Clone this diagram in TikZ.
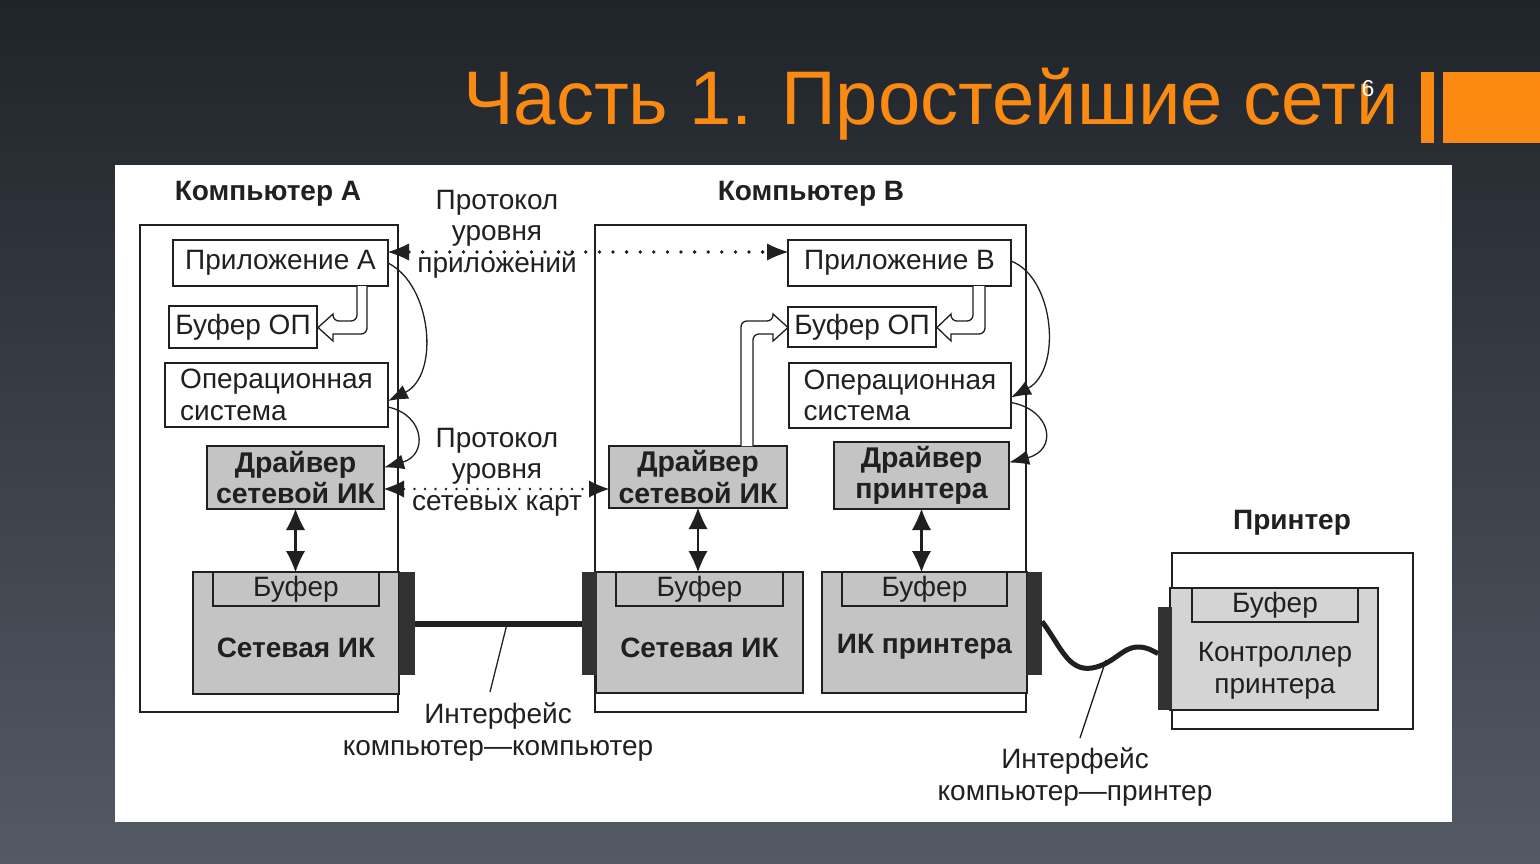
\documentclass[tikz,border=0pt]{standalone}
\usepackage{fontspec}
\setmainfont{Liberation Sans}
\usetikzlibrary{arrows.meta,calc}
\definecolor{bgtop}{RGB}{30,36,41}
\definecolor{bgbot}{RGB}{84,90,100}
\definecolor{orangeT}{RGB}{250,138,18}
\definecolor{ink}{RGB}{32,32,32}
\definecolor{gfill}{RGB}{196,196,196}
\definecolor{cfill}{RGB}{212,212,212}
\definecolor{darkbar}{RGB}{50,50,50}
\begin{document}
\begin{tikzpicture}[x=1pt,y=-1pt,
  box/.style={draw=ink, line width=1.4pt, fill=white, inner sep=0pt, outer sep=0pt,
    text=ink, font=\fontsize{28}{31.5}\selectfont, align=center},
  gbox/.style={box, fill=gfill, font=\fontsize{28.5}{31.5}\selectfont\bfseries},
  frame/.style={draw=ink, line width=1.4pt, inner sep=0pt, outer sep=0pt},
  bar/.style={fill=darkbar, draw=none, inner sep=0pt, outer sep=0pt},
  txt/.style={text=ink, font=\fontsize{28}{31.5}\selectfont, align=center, inner sep=0pt},
  btxt/.style={text=ink, font=\fontsize{28}{31.5}\selectfont\bfseries, align=center, inner sep=0pt},
  curv/.style={draw=ink, line width=1.3pt, -{Latex[length=20pt,width=15pt]}},
  vbi/.style={draw=ink, line width=2.8pt, {Latex[length=21pt,width=19pt,line width=0pt]}-{Latex[length=21pt,width=19pt,line width=0pt]}},
  dotsA/.style={draw=ink, line width=3.8pt, line cap=round, dash pattern=on 0pt off 13.6pt,
    {Latex[length=21pt,width=17pt,line width=0pt]}-{Latex[length=21pt,width=17pt,line width=0pt]}},
  dotsB/.style={draw=ink, line width=2.8pt, line cap=round, dash pattern=on 0pt off 10.5pt,
    {Latex[length=20pt,width=17pt,line width=0pt]}-{Latex[length=20pt,width=17pt,line width=0pt]}},
  hollow/.style={draw=ink, line width=1.3pt, fill=white, line join=miter},
  ptr/.style={draw=ink, line width=1.3pt}
]
\useasboundingbox (0,0) rectangle (1540,864);
% background
\shade[top color=bgtop, bottom color=bgbot] (0,0) rectangle (1540,864);
% title
\node[anchor=base west, text=orangeT, font=\fontsize{76}{80}\selectfont, inner sep=0pt] (title) at (463,125) {Часть 1. Простейшие сети};
\node[text=white, font=\fontsize{23}{23}\selectfont, inner sep=0pt] (num) at (1368,89) {6};
\fill[orangeT] (1421,72) rectangle (1434,143);
\fill[orangeT] (1443,72) rectangle (1540,143);
% white panel
\fill[white] (115,165) rectangle (1452,822);

% headings
\node[btxt] (hA) at (268,194) {Компьютер А};
\node[btxt] (hB) at (811,194) {Компьютер В};
\node[btxt] (hP) at (1292,523) {Принтер};

% frames
\node[frame, minimum width=258pt, minimum height=487pt] (frameA) at (269,468.5) {};
\node[frame, minimum width=431pt, minimum height=487pt] (frameB) at (810.5,468.5) {};
\node[frame, minimum width=241pt, minimum height=176pt] (frameP) at (1292.5,641) {};

% computer A
\node[box, minimum width=215pt, minimum height=46pt] (appA) at (280.5,263) {Приложение А};
\node[box, minimum width=148pt, minimum height=42pt] (bufA) at (243,327) {Буфер ОП};
\node[box, minimum width=223pt, minimum height=64pt, align=left] (osA) at (276.5,395) {Операционная\\система};
\node[gbox, minimum width=177pt, minimum height=63pt] (drvA) at (295.5,477.5) {Драйвер\\сетевой ИК};
\node[gbox, minimum width=206pt, minimum height=122pt] (nicA) at (296,633) {};
\node[box, fill=gfill, minimum width=166pt, minimum height=34pt] (bnA) at (296,589) {Буфер};
\node[btxt] (tnA) at (296,648) {Сетевая ИК};
\node[bar, minimum width=16pt, minimum height=103pt] (barA) at (407,623.5) {};

% computer B
\node[box, minimum width=223pt, minimum height=46pt] (appB) at (899.5,263) {Приложение В};
\node[box, minimum width=148pt, minimum height=40pt] (bufB) at (862,327) {Буфер ОП};
\node[box, minimum width=222pt, minimum height=65pt, align=left] (osB) at (900,395.5) {Операционная\\система};
\node[gbox, minimum width=178pt, minimum height=62pt] (drvB) at (698,477) {Драйвер\\сетевой ИК};
\node[gbox, minimum width=175pt, minimum height=67pt] (drvP) at (921.5,475.5) {Драйвер\\принтера};
\node[gbox, minimum width=207pt, minimum height=121pt] (nicB) at (699.5,632.5) {};
\node[box, fill=gfill, minimum width=167pt, minimum height=34pt] (bnB) at (699.5,589) {Буфер};
\node[btxt] (tnB) at (699.5,648) {Сетевая ИК};
\node[gbox, minimum width=205pt, minimum height=121pt] (nicP) at (924.5,632.5) {};
\node[box, fill=gfill, minimum width=165pt, minimum height=34pt] (bnP) at (924.5,589) {Буфер};
\node[btxt] (tnP) at (924.5,647) {ИК принтера};
\node[bar, minimum width=15pt, minimum height=103pt] (barB) at (589.5,623.5) {};
\node[bar, minimum width=15pt, minimum height=103pt] (barP) at (1034.5,623.5) {};

% printer
\node[box, fill=cfill, minimum width=208pt, minimum height=122pt] (ctrl) at (1274,649) {};
\node[box, fill=cfill, minimum width=166pt, minimum height=34pt] (bnC) at (1275,605) {Буфер};
\node[txt] (tC) at (1275,671) {Контроллер\\принтера};
\node[bar, minimum width=14pt, minimum height=103pt] (barC) at (1165,658.5) {};

% protocol labels
\node[txt] (protA) at (497,234) {Протокол\\уровня\\приложений};
\node[txt] (protN) at (497,472) {Протокол\\уровня\\сетевых карт};

% dotted protocol arrows
\draw[dotsA] ([yshift=11pt]appA.east) -- ([yshift=11pt]appB.west);
\draw[dotsB] ([yshift=-11.5pt]drvA.east) -- ([yshift=-12pt]drvB.west);

% curved control arrows
\draw[curv] (appA.east) .. controls (432,285) and (440,375) .. ([yshift=-6pt]osA.east);
\draw[curv] ([yshift=-12pt]osA.east) .. controls (425,415) and (428,455) .. ([yshift=10pt]drvA.east);
\draw[curv] ([yshift=2pt]appB.east) .. controls (1055,278) and (1062,370) .. ([yshift=-2pt]osB.east);
\draw[curv] ([yshift=-7pt]osB.east) .. controls (1052,410) and (1058,450) .. ([yshift=13pt]drvP.east);

% vertical bidirectional arrows
\draw[vbi] (drvA.south) -- (drvA.south |- bnA.north);
\draw[vbi] (drvB.south) -- (drvB.south |- bnB.north);
\draw[vbi] (drvP.south) -- (drvP.south |- bnP.north);

% hollow data arrows
\draw[hollow] (357,286) [rounded corners=6pt] -- (357,321) -- (333,321) [sharp corners] -- (333,314) -- (318,327.5) -- (333,341) -- (333,334) [rounded corners=6pt] -- (367,334) -- (367,286);
\draw[hollow] (973,286) [rounded corners=6pt] -- (973,321) -- (951,321) [sharp corners] -- (951,314) -- (937,327.5) -- (951,341) -- (951,334) [rounded corners=6pt] -- (985,334) -- (985,286);
\draw[hollow] (741,446) [rounded corners=6pt] -- (741,321) -- (773,321) [sharp corners] -- (773,314) -- (788,327.5) -- (773,341) -- (773,334) [rounded corners=6pt] -- (753,334) -- (753,446);

% physical links
\draw[draw=ink, line width=6pt] (barA.east) -- (barB.west);
\draw[draw=ink, line width=5pt] ([yshift=2pt]barP.east) .. controls (1060,645) and (1068,672) .. (1092,668)
   .. controls (1115,664) and (1122,646) .. (1140,647) .. controls (1150,648) and (1154,652) .. ([yshift=5pt]barC.west);

% pointers and interface labels
\coordinate (p1s) at (507,624);
\coordinate (p1e) at (490,692);
\draw[ptr] (p1s) -- (p1e);
\node[txt] (ifA) at (498,732) {Интерфейс\\компьютер—компьютер};
\coordinate (p2s) at (1106,660);
\coordinate (p2e) at (1080,738);
\draw[ptr] (p2s) -- (p2e);
\node[txt] (ifP) at (1075,777) {Интерфейс\\компьютер—принтер};
\end{tikzpicture}
\end{document}
